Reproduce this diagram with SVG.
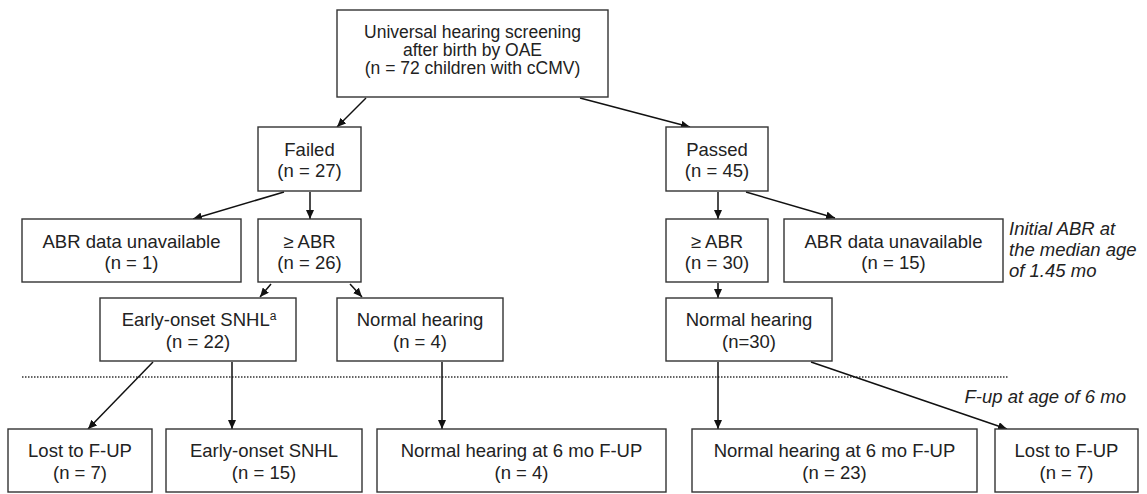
<svg xmlns="http://www.w3.org/2000/svg" width="1147" height="494" viewBox="0 0 1147 494">
<style>
.box{fill:#fff;stroke:#333;stroke-width:1.4}
.t{font-family:"Liberation Sans",Arial,sans-serif;font-size:18.5px;fill:#222;text-anchor:middle}
.tt{font-family:"Liberation Sans",Arial,sans-serif;font-size:17.5px;fill:#222;text-anchor:middle}
.it{font-family:"Liberation Sans",Arial,sans-serif;font-size:18.5px;fill:#222;font-style:italic}
.c{stroke:#111;stroke-width:1.5;fill:none;marker-end:url(#ah)}
.dot{stroke:#333;stroke-width:1.3;stroke-dasharray:1.5 1.5;fill:none}
</style>
<defs>
<marker id="ah" markerWidth="9" markerHeight="8" refX="9" refY="4" orient="auto" markerUnits="userSpaceOnUse">
<path d="M0,0 L9,4 L0,8 z" fill="#111"/>
</marker>
</defs>
<rect width="1147" height="494" fill="#fff"/>
<line class="dot" x1="22" y1="377" x2="1008" y2="377"/>
<g id="connectors">
<line class="c" x1="366" y1="98" x2="337" y2="127"/>
<line class="c" x1="580" y1="98" x2="690" y2="127"/>
<line class="c" x1="284" y1="192" x2="193" y2="219"/>
<line class="c" x1="310" y1="192" x2="310" y2="219"/>
<line class="c" x1="718" y1="192" x2="718" y2="219"/>
<line class="c" x1="746" y1="192" x2="835" y2="218"/>
<line class="c" x1="271" y1="284" x2="260" y2="297"/>
<line class="c" x1="350" y1="284" x2="362" y2="297"/>
<line class="c" x1="718" y1="283" x2="718" y2="298"/>
<line class="c" x1="153" y1="362" x2="88" y2="429"/>
<line class="c" x1="232" y1="362" x2="232" y2="429"/>
<line class="c" x1="442" y1="362" x2="442" y2="429"/>
<line class="c" x1="718" y1="362" x2="718" y2="429"/>
<line class="c" x1="811" y1="362" x2="1007" y2="429"/>
</g>
<g id="n-top"><rect class="box" x="337" y="10" width="271" height="87"/>
<text class="tt" x="472.5" y="38">Universal hearing screening</text>
<text class="tt" x="472.5" y="56">after birth by OAE</text>
<text class="tt" x="472.5" y="74">(n = 72 children with cCMV)</text></g>
<g id="n-failed"><rect class="box" x="258" y="127" width="103" height="64"/>
<text class="t" x="309.5" y="156">Failed</text><text class="t" x="309.5" y="177">(n = 27)</text></g>
<g id="n-passed"><rect class="box" x="666" y="127" width="102" height="64"/>
<text class="t" x="717" y="156">Passed</text><text class="t" x="717" y="177">(n = 45)</text></g>
<g id="n-abr-un1"><rect class="box" x="22" y="219" width="219" height="63"/>
<text class="t" x="131.5" y="248">ABR data unavailable</text><text class="t" x="131.5" y="269">(n = 1)</text></g>
<g id="n-abr26"><rect class="box" x="258" y="219" width="103" height="63"/>
<text class="t" x="309.5" y="248">≥ ABR</text><text class="t" x="309.5" y="269">(n = 26)</text></g>
<g id="n-abr30"><rect class="box" x="666" y="219" width="102" height="63"/>
<text class="t" x="717" y="248">≥ ABR</text><text class="t" x="717" y="269">(n = 30)</text></g>
<g id="n-abr-un15"><rect class="box" x="784" y="219" width="219" height="63"/>
<text class="t" x="893.5" y="248">ABR data unavailable</text><text class="t" x="893.5" y="269">(n = 15)</text></g>
<g id="note-abr"><text class="it" x="1009" y="235">Initial ABR at</text>
<text class="it" x="1009" y="256">the median age</text>
<text class="it" x="1009" y="277">of 1.45 mo</text></g>
<g id="n-early22"><rect class="box" x="100" y="298" width="196" height="63"/>
<text class="t" x="199" y="326">Early-onset SNHL<tspan font-size="12" dy="-6">a</tspan></text><text class="t" x="198" y="348">(n = 22)</text></g>
<g id="n-nh4"><rect class="box" x="337" y="298" width="166" height="63"/>
<text class="t" x="420" y="326">Normal hearing</text><text class="t" x="420" y="348">(n = 4)</text></g>
<g id="n-nh30"><rect class="box" x="666" y="298" width="166" height="63"/>
<text class="t" x="749" y="326">Normal hearing</text><text class="t" x="749" y="348">(n=30)</text></g>
<g id="note-fup"><text class="it" x="1126" y="403" text-anchor="end">F-up at age of 6 mo</text></g>
<g id="n-lost7a"><rect class="box" x="8" y="429" width="144" height="63"/>
<text class="t" x="80" y="457">Lost to F-UP</text><text class="t" x="80" y="479">(n = 7)</text></g>
<g id="n-early15"><rect class="box" x="166" y="429" width="196" height="63"/>
<text class="t" x="264" y="457">Early-onset SNHL</text><text class="t" x="264" y="479">(n = 15)</text></g>
<g id="n-nh6-4"><rect class="box" x="377" y="429" width="289" height="63"/>
<text class="t" x="521.5" y="457">Normal hearing at 6 mo F-UP</text><text class="t" x="521.5" y="479">(n = 4)</text></g>
<g id="n-nh6-23"><rect class="box" x="692" y="429" width="285" height="63"/>
<text class="t" x="834.5" y="457">Normal hearing at 6 mo F-UP</text><text class="t" x="834.5" y="479">(n = 23)</text></g>
<g id="n-lost7b"><rect class="box" x="995" y="429" width="143" height="63"/>
<text class="t" x="1066.5" y="457">Lost to F-UP</text><text class="t" x="1066.5" y="479">(n = 7)</text></g>
</svg>
